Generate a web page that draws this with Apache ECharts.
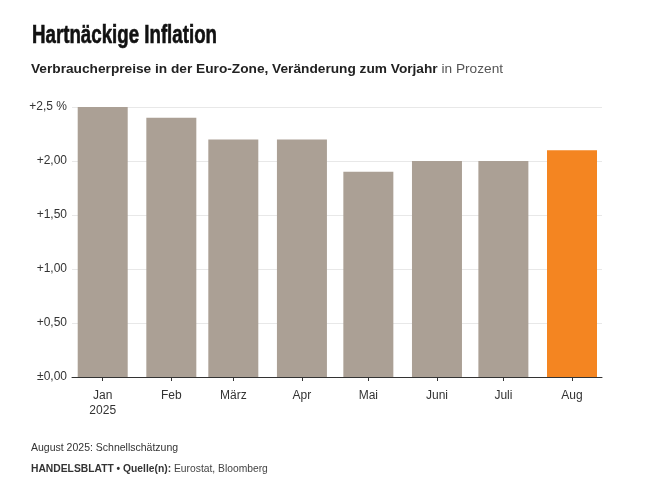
<!DOCTYPE html>
<html>
<head>
<meta charset="utf-8">
<script src="https://cdn.jsdelivr.net/npm/echarts@6/dist/echarts.min.js"></script>
<style>
  html, body { margin: 0; padding: 0; background: #fff; }
  #chart { width: 645px; height: 496px; }
</style>
</head>
<body>
<div id="chart"></div>
<script>
// Monatswerte Inflation Euro-Zone 2025
const monthDates = ['2025-01-01', '2025-02-01', '2025-03-01', '2025-04-01', '2025-05-01', '2025-06-01', '2025-07-01', '2025-08-01'];
const monthLabels = ['Jan\n2025', 'Feb', 'März', 'Apr', 'Mai', 'Juni', 'Juli', 'Aug'];
const inflation = [2.5, 2.4, 2.2, 2.2, 1.9, 2.0, 2.0, 2.1];
const yTicks = [0, 0.5, 1.0, 1.5, 2.0, 2.5];
const yTickLabels = ['±0,00', '+0,50', '+1,00', '+1,50', '+2,00', '+2,5 %'];

const GREY = '#aba095';
const ORANGE = '#f48521';
const DAY = 24 * 3600 * 1000;
const SANS = "'Liberation Sans', Arial, sans-serif";

// x als Tage seit dem ersten Monat (Monate sind unterschiedlich lang)
const t0 = Date.parse(monthDates[0] + 'T00:00:00Z');
const days = monthDates.map(d => Math.round((Date.parse(d + 'T00:00:00Z') - t0) / DAY));
const labelByDay = {};
days.forEach((d, i) => { labelByDay[d] = monthLabels[i]; });
const labelByTick = {};
yTicks.forEach((v, i) => { labelByTick[v.toFixed(2)] = yTickLabels[i]; });

// Titel in schmaler Schrift: Liberation Sans Bold horizontal gestaucht
const titleText = 'Hartnäckige Inflation';
const titleFont = "bold 25px 'Liberation Sans', Arial, sans-serif";
const measure = document.createElement('canvas').getContext('2d');
measure.font = titleFont;
const titleScale = 185 / measure.measureText(titleText).width;

const chart = echarts.init(document.getElementById('chart'), null, { renderer: 'canvas' });

chart.setOption({
    animation: false,
    graphic: [{
        type: 'text',
        x: 32,
        y: 24,
        scaleX: titleScale,
        style: {
            text: titleText,
            font: titleFont,
            fill: '#111',
            stroke: '#111',
            lineWidth: 0.6,
            verticalAlign: 'top'
        }
    }],
    title: [
        {
            text: '{b|Verbraucherpreise in der Euro-Zone, Veränderung zum Vorjahr }{r|in Prozent}',
            left: 31, top: 62, padding: 0,
            textStyle: {
                rich: {
                    b: { fontFamily: SANS, fontWeight: 'bold', fontSize: 13.7, color: '#222' },
                    r: { fontFamily: SANS, fontWeight: 'normal', fontSize: 13.7, color: '#555' }
                }
            }
        },
        {
            text: 'August 2025: Schnellschätzung',
            left: 31, top: 443, padding: 0,
            textStyle: { fontFamily: SANS, fontWeight: 'normal', fontSize: 10.5, color: '#333' }
        },
        {
            text: '{b|HANDELSBLATT • Quelle(n): }{r|Eurostat, Bloomberg}',
            left: 31, top: 464, padding: 0,
            textStyle: {
                rich: {
                    b: { fontFamily: SANS, fontWeight: 'bold', fontSize: 10.3, color: '#333' },
                    r: { fontFamily: SANS, fontWeight: 'normal', fontSize: 10.3, color: '#444' }
                }
            }
        }
    ],
    grid: { left: 72, right: 43, top: 107, bottom: 119, containLabel: false },
    xAxis: {
        type: 'value',
        min: days[0] - 13.87,
        max: days[days.length - 1] + 13.55,
        axisLine: { show: true, lineStyle: { color: '#333', width: 1 } },
        axisTick: { show: true, length: 4, lineStyle: { color: '#333' }, customValues: days },
        axisLabel: {
            customValues: days,
            formatter: v => labelByDay[Math.round(v)] || '',
            color: '#333',
            fontFamily: SANS,
            fontSize: 12,
            lineHeight: 15,
            margin: 11,
            hideOverlap: false
        },
        splitLine: { show: false }
    },
    yAxis: {
        type: 'value',
        min: 0,
        max: 2.5,
        interval: 0.5,
        axisLine: { show: false },
        axisTick: { show: false },
        axisLabel: {
            formatter: v => labelByTick[v.toFixed(2)] || '',
            color: '#333',
            fontFamily: SANS,
            fontSize: 12,
            margin: 5
        },
        splitLine: { show: true, lineStyle: { color: '#e8e8e8', width: 1 } }
    },
    series: [{
        type: 'bar',
        barWidth: 50,
        data: days.map((d, i) => ({
            value: [d, inflation[i]],
            itemStyle: { color: i === days.length - 1 ? ORANGE : GREY }
        }))
    }]
});
</script>
</body>
</html>
